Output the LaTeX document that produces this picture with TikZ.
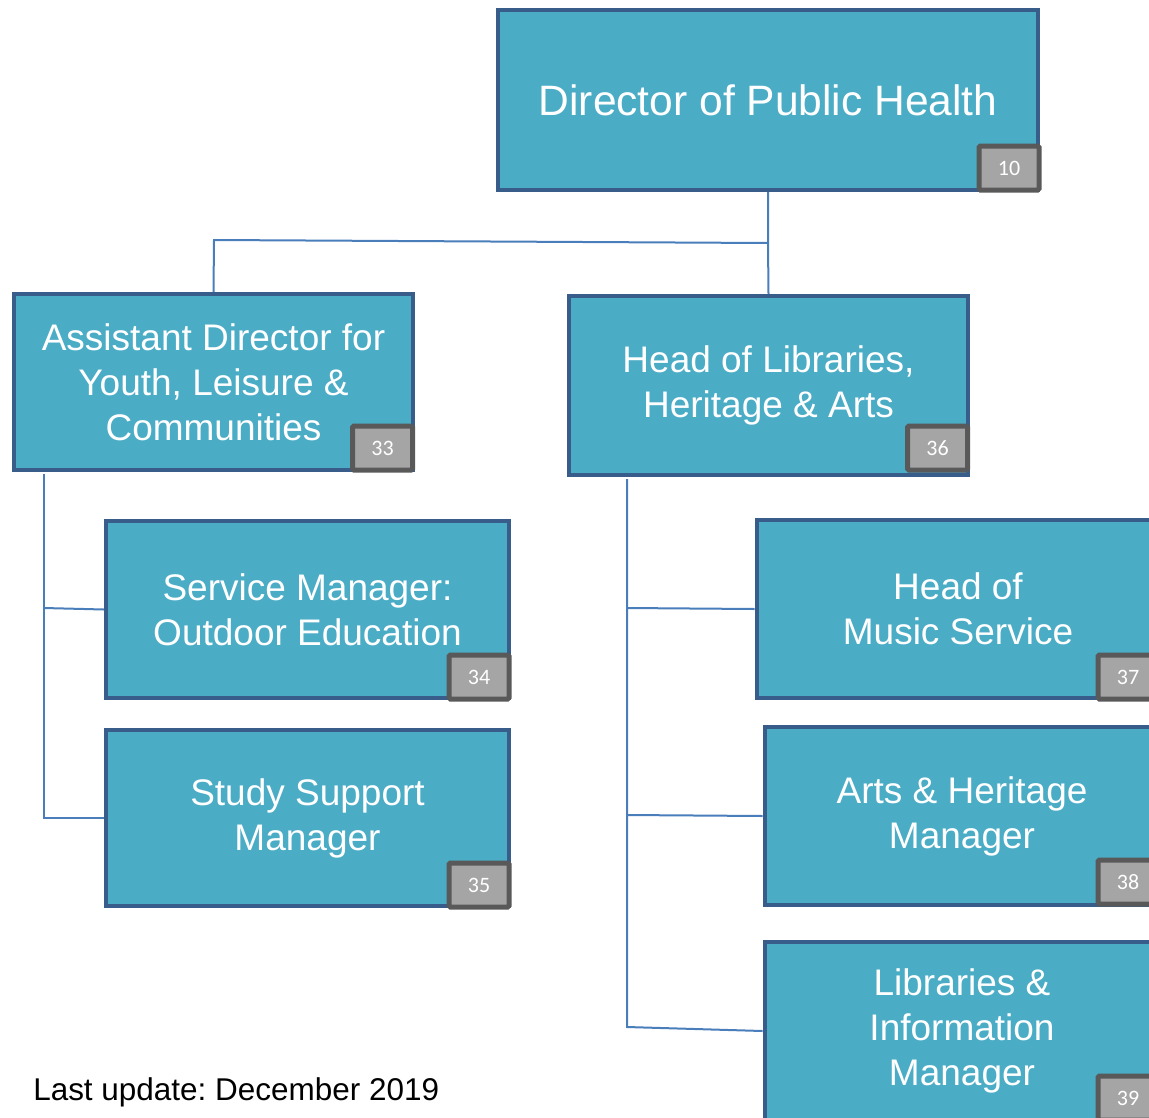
\documentclass[tikz,border=0pt]{standalone}
\usepackage{fontspec}
\setmainfont{Liberation Sans}
\newfontfamily\badgefont{Carlito}
\usetikzlibrary{calc}
\definecolor{boxfill}{HTML}{4BACC6}
\definecolor{boxline}{HTML}{385D8A}
\definecolor{connline}{HTML}{4A7EBB}
\definecolor{badgefill}{HTML}{A5A5A5}
\definecolor{badgeline}{HTML}{595959}
\frenchspacing
\tikzset{
  orgbox/.style={draw=boxline, fill=boxfill, line width=3.2pt, text=white, align=center,
    inner sep=0pt, font=\fontsize{27.75}{33.75}\selectfont},
  badge/.style={draw=badgeline, fill=badgefill, line width=3.75pt, text=white,
    inner sep=0pt, minimum width=45pt, minimum height=33pt, font=\badgefont\fontsize{16.5}{19}\selectfont,
    rounded corners=1pt},
  conn/.style={draw=connline, line width=1.5pt},
}
\begin{document}
\begin{tikzpicture}[x=0.75pt,y=-0.75pt]
\useasboundingbox (0,0) rectangle (1149,1117);
\clip (0,0) rectangle (1149,1117);
% boxes
\node[orgbox, minimum width=405pt, minimum height=135pt, font=\fontsize{31.9}{38}\selectfont] (dir) at (768,100) {Director of Public Health};
\node[orgbox, minimum width=299pt, minimum height=132pt] (ad) at (213.5,382) {Assistant Director for\\Youth, Leisure \&\\Communities};
\node[orgbox, minimum width=299pt, minimum height=134pt] (hl) at (768.5,385.5) {Head of Libraries,\\Heritage \& Arts};
\node[orgbox, minimum width=302pt, minimum height=133pt] (sm) at (307.5,609.5) {Service Manager:\\Outdoor Education};
\node[orgbox, minimum width=302pt, minimum height=132pt] (ss) at (307.5,818) {Study Support\\Manager};
\node[orgbox, minimum width=302pt, minimum height=134pt] (hm) at (958,609) {Head of\\Music Service};
\node[orgbox, minimum width=296pt, minimum height=134pt] (ah) at (962,816) {Arts \& Heritage\\Manager};
\node[orgbox, minimum width=296pt, minimum height=134pt] (li) at (962,1031) {Libraries \&\\Information\\Manager};
% badges
\node[badge] (b10) at (1009,168) {10};
\node[badge] (b33) at (382.5,448) {33};
\node[badge] (b36) at (937.5,448) {36};
\node[badge] (b34) at (479,677) {34};
\node[badge] (b35) at (479,885) {35};
\node[badge] (b37) at (1128,677) {37};
\node[badge] (b38) at (1128,882) {38};
\node[badge] (b39) at (1128,1098) {39};
% connectors
\coordinate (j1) at (768,243);
\coordinate (j2) at (214,240);
\coordinate (a0) at (44,474);
\coordinate (a1) at (44,608);
\coordinate (a2) at (44,818);
\coordinate (h0) at (627,479);
\coordinate (h1) at (627,608);
\coordinate (h2) at (627,815);
\coordinate (h3) at (627,1027);
\draw[conn] (dir.south) -- (j1) -- (hl.north);
\draw[conn] (j1) -- (j2) -- (ad.north);
\draw[conn] (a0) -- (a2) -- (ss.west);
\draw[conn] (a1) -- (sm.west);
\draw[conn] (h0) -- (h3) -- (li.west);
\draw[conn] (h1) -- (hm.west);
\draw[conn] (h2) -- (ah.west);
% footer
\node[anchor=west, inner sep=0pt, font=\fontsize{23.6}{28}\selectfont] (upd) at (33,1092) {Last update: December 2019};
\end{tikzpicture}
\end{document}
